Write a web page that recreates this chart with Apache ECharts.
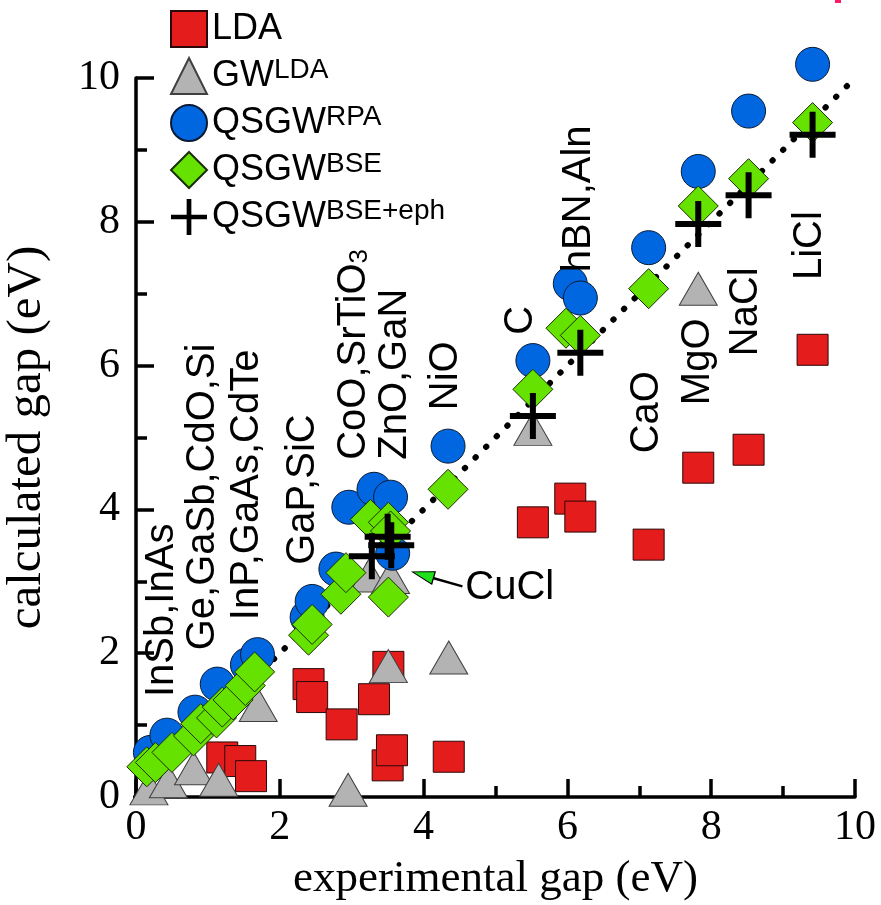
<!DOCTYPE html>
<html>
<head>
<meta charset="utf-8">
<script src="https://cdn.jsdelivr.net/npm/echarts@6/dist/echarts.min.js"></script>
<style>
  body { margin: 0; padding: 0; background: #fff; }
  #chart { width: 881px; height: 905px; }
</style>
</head>
<body>
<div id="chart"></div>
<script>
// experimental gap (x) vs calculated gap (y), eV
const ldaX = [1.2, 1.45, 1.6, 2.4, 2.45, 2.86, 3.31, 3.51, 3.5, 3.56, 4.35, 5.52, 6.04, 6.18, 7.13, 7.82, 8.52, 9.41]
const ldaY = [0.55, 0.5, 0.29, 1.57, 1.39, 1.01, 1.36, 1.81, 0.44, 0.65, 0.56, 3.82, 4.15, 3.9, 3.51, 4.58, 4.83, 6.22]

const gwX = [0.18, 0.45, 0.8, 1.15, 1.7, 2.95, 3.24, 3.54, 3.51, 4.35, 5.52, 7.82]
const gwY = [0.12, 0.22, 0.4, 0.24, 1.28, 0.1, 3.08, 3.06, 1.82, 1.94, 5.12, 7.07]

const rpaX = [0.2, 0.43, 0.82, 1.13, 1.55, 1.69, 2.38, 2.45, 2.78, 2.96, 3.31, 3.54, 3.57, 4.34, 5.52, 6.04, 6.18, 7.13, 7.82, 8.52, 9.41]
const rpaY = [0.62, 0.86, 1.18, 1.57, 1.84, 1.98, 2.5, 2.72, 3.17, 4.03, 4.28, 4.17, 3.39, 4.88, 6.07, 7.14, 6.94, 7.64, 8.7, 9.54, 10.19]

const bseX = [0.15, 0.27, 0.5, 0.8, 0.9, 1.12, 1.2, 1.35, 1.52, 1.65, 2.4, 2.45, 2.85, 2.92, 3.26, 3.51, 3.54, 3.51, 4.34, 5.52, 5.98, 6.18, 7.13, 7.82, 8.52, 9.41]
const bseY = [0.42, 0.48, 0.62, 0.85, 1.02, 1.1, 1.25, 1.35, 1.55, 1.74, 2.25, 2.4, 2.82, 3.12, 3.86, 3.82, 3.7, 2.78, 4.28, 5.67, 6.52, 6.42, 7.07, 8.22, 8.6, 9.38]

const ephX = [3.28, 3.5, 3.55, 5.52, 6.18, 7.82, 8.52, 9.41]
const ephY = [3.35, 3.62, 3.5, 5.3, 6.18, 7.97, 8.37, 9.21]

// material labels (anchored at the start of the vertical text)
const matNames = ['InSb,InAs', 'Ge,GaSb,CdO,Si', 'InP,GaAs,CdTe', 'GaP,SiC', 'CoO,SrTiO{sub|3}', 'ZnO,GaN', 'NiO', 'C', 'hBN,Aln', 'CaO', 'MgO', 'NaCl', 'LiCl']
const matX = [0.36, 0.93, 1.55, 2.32, 3.03, 3.6, 4.31, 5.36, 6.16, 7.1, 7.81, 8.48, 9.37]
const matY = [1.39, 2.04, 2.46, 3.23, 4.69, 4.69, 5.38, 6.43, 7.3, 4.78, 5.45, 6.13, 7.19]

const ticks = [0, 2, 4, 6, 8, 10]

const zip = (xs, ys) => xs.map((x, i) => [x, ys[i]])

const plusPath = 'path://M20,0H26V20H46V26H26V46H20V26H0V20H20Z'

const legendText = {
  'LDA': '{b|LDA}',
  'GW_LDA': '{b|GW}{sup|LDA}',
  'QSGW_RPA': '{b|QSGW}{sup|RPA}',
  'QSGW_BSE': '{b|QSGW}{sup|BSE}',
  'QSGW_BSE_eph': '{b|QSGW}{sup|BSE+eph}'
}

const chart = echarts.init(document.getElementById('chart'))

const axisCommon = {
  type: 'value',
  min: 0,
  max: 10,
  interval: 2,
  nameLocation: 'middle',
  axisLine: { show: true, lineStyle: { color: '#000', width: 3.5 } },
  axisTick: { show: true, inside: true, length: 18, lineStyle: { color: '#000', width: 3.5 } },
  minorTick: { show: true, splitNumber: 2, length: 11, lineStyle: { color: '#000', width: 3.5 } },
  splitLine: { show: false },
  axisLabel: {
    fontFamily: 'Liberation Serif', fontSize: 42, color: '#000',
    formatter: v => ticks.includes(v) ? String(v) : ''
  }
}

const labelCommon = {
  show: true,
  position: 'inside',
  align: 'left',
  verticalAlign: 'middle',
  formatter: p => p.name,
  fontFamily: 'Liberation Sans',
  fontSize: 40,
  color: '#000',
  textBorderWidth: 0,
  textShadowBlur: 0
}

chart.setOption({
  backgroundColor: '#fff',
  animation: false,
  grid: { left: 136, right: 26, top: 78, bottom: 108, outerBoundsMode: 'none' },
  xAxis: Object.assign({}, axisCommon, {
    name: 'experimental gap (eV)',
    nameGap: 60,
    nameTextStyle: { fontFamily: 'Liberation Serif', fontSize: 45, color: '#000' },
    axisLabel: Object.assign({}, axisCommon.axisLabel, { margin: 10 })
  }),
  yAxis: Object.assign({}, axisCommon, {
    name: 'calculated gap (eV)',
    nameGap: 84,
    nameTextStyle: { fontFamily: 'Liberation Serif', fontSize: 49, color: '#000' },
    axisLabel: Object.assign({}, axisCommon.axisLabel, { margin: 16 })
  }),
  legend: {
    orient: 'vertical',
    left: 165,
    top: 5,
    itemWidth: 36,
    itemHeight: 36,
    itemGap: 8,
    data: ['LDA', 'GW_LDA', 'QSGW_RPA', 'QSGW_BSE', 'QSGW_BSE_eph'],
    formatter: name => legendText[name],
    textStyle: {
      fontFamily: 'Liberation Sans',
      fontSize: 36,
      color: '#000',
      rich: {
        b: { fontFamily: 'Liberation Sans', fontSize: 36, lineHeight: 40, color: '#000' },
        sup: { fontFamily: 'Liberation Sans', fontSize: 28, lineHeight: 30, verticalAlign: 'top', color: '#000' }
      }
    }
  },
  graphic: [
    { type: 'rect', left: 835, top: 0, shape: { width: 6, height: 3 }, style: { fill: '#ff1a66' } }
  ],
  series: [
    {
      type: 'line',
      data: [[0, 0], [10, 10]],
      symbol: 'none',
      silent: true,
      z: 1,
      lineStyle: { color: '#000', width: 6, type: [0.5, 14.5], cap: 'round' }
    },
    {
      name: 'LDA',
      type: 'scatter',
      symbol: 'rect',
      symbolSize: 31,
      clip: false,
      z: 2,
      itemStyle: { color: '#e41c1c', borderColor: '#2a0808', borderWidth: 1, opacity: 1 },
      data: zip(ldaX, ldaY)
    },
    {
      name: 'GW_LDA',
      type: 'scatter',
      symbol: 'triangle',
      symbolSize: [38, 33],
      clip: false,
      z: 3,
      itemStyle: { color: '#b3b3b3', borderColor: '#404040', borderWidth: 1, opacity: 1 },
      data: zip(gwX, gwY)
    },
    {
      name: 'QSGW_RPA',
      type: 'scatter',
      symbol: 'circle',
      symbolSize: 34,
      clip: false,
      z: 4,
      itemStyle: { color: '#0067e0', borderColor: '#0a1a33', borderWidth: 1, opacity: 1 },
      data: zip(rpaX, rpaY)
    },
    {
      name: 'QSGW_BSE',
      type: 'scatter',
      symbol: 'diamond',
      symbolSize: 40,
      clip: false,
      z: 5,
      itemStyle: { color: '#66e200', borderColor: '#1a2e05', borderWidth: 1, opacity: 1 },
      data: zip(bseX, bseY)
    },
    {
      name: 'QSGW_BSE_eph',
      type: 'scatter',
      symbol: plusPath,
      symbolSize: 46,
      clip: false,
      z: 6,
      itemStyle: { color: '#000', opacity: 1 },
      data: zip(ephX, ephY)
    },
    {
      // vertical material labels
      type: 'scatter',
      symbolSize: 1,
      silent: true,
      z: 7,
      itemStyle: { color: 'rgba(0,0,0,0)', opacity: 1 },
      data: matX.map((x, i) => ({ value: [x, matY[i]], name: matNames[i] })),
      label: Object.assign({}, labelCommon, {
        rotate: 90,
        rich: {
          sub: { fontFamily: 'Liberation Sans', fontSize: 26, color: '#000', padding: [12, 0, 0, 0] }
        }
      })
    },
    {
      // CuCl annotation with arrow
      type: 'scatter',
      symbol: 'triangle',
      symbolSize: [13, 22],
      symbolRotate: 74,
      silent: true,
      z: 8,
      itemStyle: { color: '#22e01a', borderColor: '#000', borderWidth: 1, opacity: 1 },
      data: [[3.99, 3.09]],
      markLine: {
        silent: true,
        symbol: ['none', 'none'],
        label: { show: false },
        lineStyle: { color: '#000', width: 2.5, type: 'solid', opacity: 1 },
        data: [[{ coord: [4.54, 2.93] }, { coord: [4.08, 3.06] }]]
      }
    },
    {
      type: 'scatter',
      symbolSize: 1,
      silent: true,
      z: 8,
      itemStyle: { color: 'rgba(0,0,0,0)', opacity: 1 },
      data: [{ value: [4.58, 2.91], name: 'CuCl' }],
      label: labelCommon
    }
  ]
})
</script>
</body>
</html>
